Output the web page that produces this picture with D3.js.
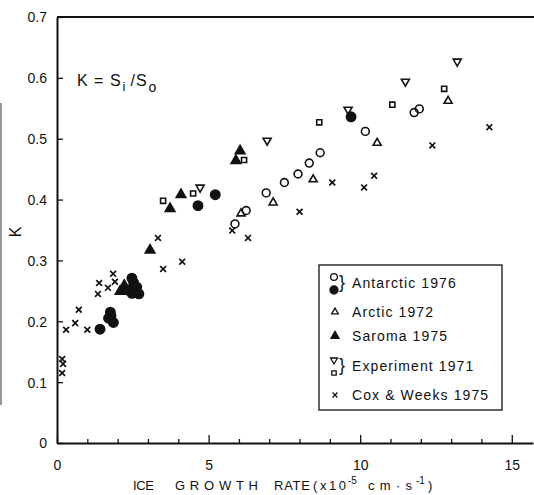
<!DOCTYPE html>
<html>
<head>
<meta charset="utf-8">
<script src="https://cdn.jsdelivr.net/npm/d3@7"></script>
<style>
  body { margin: 0; background: #fff; }
  svg { display: block; }
  text { font-family: "Liberation Sans", Arial, sans-serif; fill: #111; }
</style>
</head>
<body>
<svg id="chart" width="534" height="495"></svg>
<script>
// values: [growth rate x1e-5 cm/s, K]
var antarcticOpen = [[5.87,0.36],[6.24,0.382],[6.9,0.411],[7.5,0.428],[7.95,0.442],[8.32,0.46],[8.68,0.477],[10.17,0.512],[11.78,0.543],[11.95,0.549]];
var antarcticFilled = [[1.42,0.187],[1.7,0.205],[1.76,0.215],[1.86,0.198],[1.78,0.209],[2.35,0.251],[2.47,0.271],[2.53,0.263],[2.63,0.256],[2.47,0.246],[2.7,0.245],[4.65,0.39],[5.22,0.408],[9.7,0.536]];
var arctic = [[6.07,0.377],[7.13,0.395],[8.45,0.433],[10.56,0.493],[12.9,0.562]];
var saroma = [[2.08,0.249],[2.22,0.259],[3.07,0.317],[3.73,0.385],[4.09,0.408],[5.9,0.464],[6.04,0.48]];
var experimentTri = [[4.72,0.42],[6.93,0.497],[9.6,0.548],[11.49,0.594],[13.2,0.627]];
var experimentSq = [[3.5,0.398],[4.49,0.41],[6.17,0.465],[8.65,0.527],[11.06,0.556],[12.77,0.582]];
var coxWeeks = [[0.17,0.138],[0.2,0.13],[0.17,0.115],[0.3,0.186],[0.6,0.197],[0.72,0.219],[1.0,0.186],[1.35,0.245],[1.39,0.263],[1.68,0.255],[1.85,0.278],[1.91,0.265],[3.33,0.337],[3.5,0.286],[4.13,0.298],[5.78,0.349],[6.3,0.337],[8.0,0.38],[9.08,0.428],[10.13,0.42],[10.46,0.439],[12.38,0.489],[14.26,0.519]];

var yTicks = [0,0.1,0.2,0.3,0.4,0.5,0.6,0.7];
var xMajor = [0,5,10,15];
var xMinor = [1,2,3,4,6,7,8,9,11,12,13,14];

var svg = d3.select("#chart");
var x = d3.scaleLinear().domain([0,15.7]).range([57,533]);
var y = d3.scaleLinear().domain([0,0.7]).range([443,17]);

// scan artefact at the left edge
svg.append("line").attr("x1",1).attr("x2",1).attr("y1",103).attr("y2",405)
    .attr("stroke","#777").attr("stroke-width",1.5);

// axes
svg.append("g").attr("transform","translate(0,"+y(0)+")")
    .call(d3.axisBottom(x).tickValues(xMajor).tickSizeInner(-8).tickSizeOuter(0).tickPadding(17).tickFormat(d3.format("d")));
svg.append("g").attr("transform","translate(0,"+y(0)+")")
    .call(d3.axisBottom(x).tickValues(xMinor).tickSizeInner(-4).tickSizeOuter(0).tickFormat(""))
    .select(".domain").remove();
var gy = svg.append("g").attr("transform","translate("+x(0)+",0)")
    .call(d3.axisLeft(y).tickValues(yTicks).tickSizeInner(-6).tickSizeOuter(0).tickPadding(10)
        .tickFormat(function(d){ return d === 0 ? "0" : d3.format(".1f")(d); }));
svg.selectAll(".domain").attr("stroke","#111").attr("stroke-width",2);
svg.selectAll(".tick line").attr("stroke","#111").attr("stroke-width",1.3);
svg.selectAll(".tick text").style("font-family","Liberation Sans, Arial, sans-serif").style("font-size","14px").attr("fill","#111");
gy.selectAll(".tick text").attr("dy","0.35em");

svg.append("line").attr("x1",x(0)).attr("x2",534).attr("y1",y(0.7)).attr("y2",y(0.7))
    .attr("stroke","#111").attr("stroke-width",2);

// y title
svg.append("text").attr("transform","translate(21,232) rotate(-90)")
    .attr("text-anchor","middle").style("font-size","16px").text("K");

// x title, letter spaced like the original lettering
var xt = svg.append("text").attr("y",490).style("font-size","13px");
xt.append("tspan").attr("x",133).attr("textLength",21).text("ICE");
xt.append("tspan").attr("x",175).attr("textLength",83).text("GROWTH");
xt.append("tspan").attr("x",274).attr("textLength",36).text("RATE");
xt.append("tspan").attr("x",313).attr("textLength",33).text("(x10");
xt.append("tspan").attr("x",348).attr("dy",-6).style("font-size","10px").text("-5");
xt.append("tspan").attr("x",368).attr("dy",6).attr("textLength",44).text("cm·s");
xt.append("tspan").attr("x",416).attr("dy",-6).style("font-size","10px").text("-1");
xt.append("tspan").attr("x",428).attr("dy",6).text(")");

// formula
var ft = svg.append("text").attr("x",77).attr("y",86).style("font-size","16px").style("letter-spacing","1px");
ft.append("tspan").text("K = S");
ft.append("tspan").attr("dy",5).attr("dx",1).style("font-size","13px").text("i");
ft.append("tspan").attr("dy",-5).attr("dx",4).text("/S");
ft.append("tspan").attr("dy",6).attr("dx",1).style("font-size","14px").text("o");

// marker shapes
var crossType = {draw: function(ctx, size){
    var r = Math.sqrt(size)/2;
    ctx.moveTo(-r,-r); ctx.lineTo(r,r);
    ctx.moveTo(r,-r); ctx.lineTo(-r,r);
}};
var shapes = {
    circleOpen:   {type: d3.symbolCircle, size: 48, fill: "none", rot: 0},
    circleFilled: {type: d3.symbolCircle, size: 68, fill: "#111", rot: 0},
    triOpen:      {type: d3.symbolTriangle, size: 28, fill: "none", rot: 0},
    triFilled:    {type: d3.symbolTriangle, size: 40, fill: "#111", rot: 0},
    triDown:      {type: d3.symbolTriangle, size: 28, fill: "none", rot: 180},
    square:       {type: d3.symbolSquare, size: 26, fill: "none", rot: 0},
    cross:        {type: crossType, size: 34, fill: "none", rot: 0}
};

var drawSeries = function(data, key){
    var s = shapes[key];
    svg.append("g").selectAll("path").data(data).enter().append("path")
        .attr("d", d3.symbol().type(s.type).size(s.size))
        .attr("transform", function(d){ return "translate("+x(d[0])+","+y(d[1])+") rotate("+s.rot+")"; })
        .attr("fill", s.fill)
        .attr("stroke", "#111")
        .attr("stroke-width", key === "cross" ? 1.7 : 1.6);
};

drawSeries(coxWeeks, "cross");
drawSeries(arctic, "triOpen");
drawSeries(experimentTri, "triDown");
drawSeries(experimentSq, "square");
drawSeries(antarcticOpen, "circleOpen");
drawSeries(saroma, "triFilled");
drawSeries(antarcticFilled, "circleFilled");

// legend
var lg = svg.append("g");
lg.append("rect").attr("x",319).attr("y",265).attr("width",183).attr("height",145)
    .attr("fill","#fff").attr("stroke","#111").attr("stroke-width",1.3);
var legendRows = [
    {label: "Antarctic 1976", y: 283, keys: ["circleOpen","circleFilled"]},
    {label: "Arctic 1972", y: 312, keys: ["triOpen"]},
    {label: "Saroma 1975", y: 336, keys: ["triFilled"]},
    {label: "Experiment 1971", y: 366, keys: ["triDown","square"]},
    {label: "Cox & Weeks 1975", y: 395, keys: ["cross"]}
];
legendRows.forEach(function(r){
    if (r.keys.length === 2) {
        r.keys.forEach(function(k, i){
            var s = shapes[k];
            lg.append("path").attr("d", d3.symbol().type(s.type).size(s.size*0.75))
                .attr("transform","translate(334,"+(r.y-6+i*13)+") rotate("+s.rot+")")
                .attr("fill", s.fill).attr("stroke","#111").attr("stroke-width",1.3);
        });
        lg.append("text").attr("x",339).attr("y",r.y+5).style("font-size","18px")
            .style("font-weight","300").text("}");
    } else {
        var s = shapes[r.keys[0]];
        lg.append("path").attr("d", d3.symbol().type(s.type).size(s.size*0.7))
            .attr("transform","translate(335,"+r.y+") rotate("+s.rot+")")
            .attr("fill", s.fill).attr("stroke","#111").attr("stroke-width",1.3);
    }
    lg.append("text").attr("x",352).attr("y",r.y+5).style("font-size","14px")
        .style("letter-spacing","1.1px").text(r.label);
});
</script>
</body>
</html>
